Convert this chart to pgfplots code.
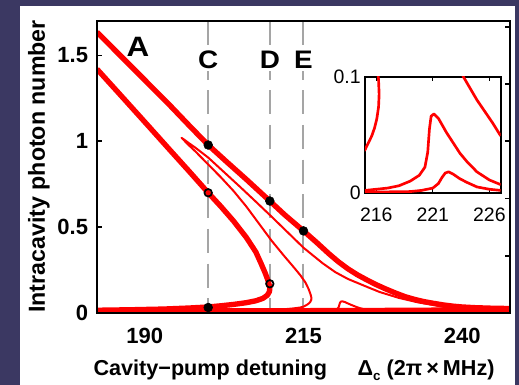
\documentclass[border=0pt]{standalone}
\usepackage{graphicx}
\usepackage{fontspec}
\setmainfont{Liberation Sans}
\usepackage{pgfplots}
\pgfplotsset{compat=1.18}
\definecolor{navy}{RGB}{59,56,98}
\definecolor{dgray}{RGB}{165,165,165}
\begin{document}
\begin{tikzpicture}
\fill[navy] (0,0) rectangle (389.25pt,288.75pt);
\fill[white] (15pt,0) rectangle (386.25pt,284.25pt);
% main axis
\begin{axis}[
  at={(72.75pt,54pt)}, anchor=south west,
  scale only axis, width=309.75pt, height=219pt,
  xmin=182.5, xmax=247.5, ymin=0, ymax=1.7,
  axis line style={line width=1.8pt},
  xtick={190,215,240}, xticklabels={190,215,240},
  ytick={0,0.5,1,1.5}, yticklabels={0,0.5,1,1.5},
  xtick pos=left, ytick pos=left,
  tick align=inside, major tick length=4pt,
  tick style={line width=1.2pt, black},
  /pgf/number format/assume math mode=true,
  tick label style={font=\bfseries\fontsize{16.5}{16.5}\selectfont},
  xticklabel style={inner sep=0pt, yshift=-11pt},
  yticklabel style={inner sep=0pt, xshift=-6.5pt},
]
\addplot[dgray, line width=1.5pt, dash pattern=on 18pt off 8pt] coordinates {(200,1.7) (200,0)};
\addplot[dgray, line width=1.5pt, dash pattern=on 18pt off 8pt] coordinates {(209.7,1.7) (209.7,0)};
\addplot[dgray, line width=1.5pt, dash pattern=on 18pt off 8pt] coordinates {(215,1.7) (215,0)};
% thick bottom branch
\addplot[red, line width=3.6pt, line join=round] coordinates {
(182.5,0.014) (190,0.014) (200,0.014) (209,0.014) (215,0.015) (225,0.016) (235,0.018) (247.5,0.02)};
% P2 small bump
\addplot[red, line width=1.5pt, line join=round] coordinates {
(182.5,0.0005) (215,0.0005) (219,0.001) (220,0.002) (221,0.004) (221.5,0.008) (221.8,0.013) (222.1,0.017) (222.4,0.018) (222.8,0.016) (223.4,0.012) (224,0.009) (224.9,0.005) (226,0.003) (227,0.002) (247.5,0.001)};
% P1 peak
\addplot[red, line width=1.5pt, line join=round] coordinates {
(182.5,0.001) (210,0.0015) (215,0.002) (216,0.003) (217,0.004) (218,0.006) (219,0.01) (219.8,0.015) (220.3,0.022) (220.55,0.035) (220.7,0.055) (220.85,0.066) (221.1,0.068) (221.5,0.064) (222.2,0.052) (223,0.04) (223.4,0.034) (224,0.027) (224.9,0.018) (226,0.011) (227,0.007) (230,0.004) (247.5,0.002)};
% thin S-curve (T2 then T1)
\addplot[red, line width=1.5pt, line join=round] coordinates {
(247.5,0.014) (244,0.017) (241,0.022) (239,0.028) (237,0.036) (235.4,0.047) (233,0.062) (230,0.088) (227,0.122) (225,0.152) (222,0.198) (220,0.238) (218,0.29) (215,0.38) (212.5,0.47) (210,0.56) (207.5,0.648) (205,0.735) (202.5,0.82) (200,0.905) (198,0.962) (197,0.988) (196.2,1.01) (195.8,1.02)
(196.2,1.005) (197,0.975) (198,0.94) (200,0.865) (202,0.79) (204,0.71) (206,0.62) (208,0.52) (210,0.42) (212,0.33) (213.5,0.265) (214.5,0.22) (215.3,0.178) (215.8,0.14) (216.05,0.115) (216.2,0.097) (216.25,0.085) (216.2,0.074) (216.05,0.064) (215.85,0.056) (215.6,0.049) (215.3,0.043) (215,0.037) (214.5,0.032) (213.5,0.027) (212,0.022) (210,0.018) (207,0.015) (204,0.012) (200,0.01) (195,0.008) (190,0.007) (182.5,0.006)};
% thick lower S-curve
\addplot[red, line width=4pt, line join=round] coordinates {
(182.5,1.42) (186,1.277) (190,1.113) (194,0.948) (197,0.825) (200,0.70) (202,0.62) (204,0.535) (206,0.44) (207.5,0.355) (208.3,0.29) (209,0.23) (209.45,0.185) (209.7,0.15) (209.65,0.125) (209.3,0.103) (208.6,0.085) (207.5,0.071) (206,0.06) (204,0.05) (202,0.042) (200,0.035) (197,0.029) (193,0.023) (188,0.019) (182.5,0.016)};
% thick upper curve
\addplot[red, line width=4pt, line join=round] coordinates {
(182.5,1.635) (186,1.505) (190,1.357) (194,1.208) (197,1.092) (200,0.978) (203,0.877) (206,0.778) (209.7,0.652) (212,0.573) (215,0.478) (217,0.413) (219,0.345) (220.5,0.298) (222,0.257) (223.5,0.222) (225,0.192) (226.5,0.164) (228,0.139) (229.5,0.116) (231,0.095) (232.5,0.079) (234,0.066) (235.5,0.056) (237,0.047) (238.5,0.040) (240,0.035) (242,0.031) (244.5,0.028) (247.5,0.026)};
% markers
\addplot[only marks, mark=*, mark size=3.3pt, black] coordinates {(200,0.978) (209.7,0.652) (215,0.478) (200,0.032)};
\addplot[only marks, mark=o, mark size=2.8pt, black, mark options={line width=1.3pt}] coordinates {(200,0.70) (209.7,0.17)};
% labels
\node[font=\bfseries\fontsize{21}{21}\selectfont, inner sep=0pt] at (axis cs:188.95,1.55) {\scalebox{1.12}[1]{A}};
\node[fill=white, inner sep=1.5pt, font=\bfseries\fontsize{19}{19}\selectfont] at (axis cs:200,1.474) {\scalebox{1.1}[1]{C}};
\node[fill=white, inner sep=1.5pt, font=\bfseries\fontsize{19}{19}\selectfont] at (axis cs:209.7,1.474) {\scalebox{1.1}[1]{D}};
\node[fill=white, inner sep=1.5pt, font=\bfseries\fontsize{19}{19}\selectfont] at (axis cs:215,1.474) {\scalebox{1.1}[1]{E}};
\end{axis}
% right-side ticks
\begin{axis}[
  at={(72.75pt,54pt)}, anchor=south west,
  scale only axis, width=309.75pt, height=219pt,
  xmin=182.5, xmax=247.5, ymin=0, ymax=1.7,
  axis line style={line width=1.8pt},
  xtick=\empty,
  ytick={0.33333,0.66667,1,1.33333,1.66667}, yticklabels={},
  ytick pos=right,
  tick align=inside, major tick length=4pt,
  tick style={line width=1.2pt, black},
]
\end{axis}
% inset
\begin{axis}[
  at={(273.75pt,144.2pt)}, anchor=south west,
  scale only axis, width=101.75pt, height=87pt,
  xmin=215, xmax=227, ymin=0, ymax=0.1,
  axis background/.style={fill=white},
  axis line style={line width=1.5pt},
  xtick={216,221,226}, xticklabels={216,221,226},
  ytick={0,0.1}, yticklabels={0,0.1},
  xtick pos=both, xticklabel pos=left, ytick pos=left,
  tick align=inside, major tick length=3pt,
  tick style={line width=1pt, black},
  /pgf/number format/assume math mode=true,
  tick label style={font=\fontsize{14.6}{14.6}\selectfont},
  xticklabel style={inner sep=0pt, yshift=-10.9pt},
  yticklabel style={inner sep=0pt, xshift=-3pt},
]
\addplot[red, line width=2pt, line join=round] coordinates {
(215,0.002) (216,0.003) (217,0.004) (218,0.006) (219,0.01) (219.8,0.015) (220.3,0.022) (220.55,0.035) (220.7,0.055) (220.85,0.066) (221.1,0.068) (221.5,0.064) (222.2,0.052) (223,0.04) (223.4,0.034) (224,0.027) (224.9,0.018) (226,0.011) (227,0.007)};
\addplot[red, line width=2pt, line join=round] coordinates {
(215,0.0005) (219,0.001) (220,0.002) (221,0.004) (221.5,0.008) (221.8,0.013) (222.1,0.017) (222.4,0.018) (222.8,0.016) (223.4,0.012) (224,0.009) (224.9,0.005) (226,0.003) (227,0.002)};
\addplot[red, line width=2pt, line join=round] coordinates {
(216.05,0.115) (216.2,0.097) (216.25,0.085) (216.2,0.074) (216.05,0.064) (215.85,0.056) (215.6,0.049) (215.3,0.043) (215,0.037) (214.5,0.032)};
\addplot[red, line width=2pt, line join=round] coordinates {
(223.3,0.108) (223.7,0.1) (224.3,0.09) (224.9,0.08) (225.6,0.07) (226.3,0.06) (227,0.049)};
\end{axis}
% axis labels
\node[rotate=90, anchor=base west, inner sep=0pt, font=\bfseries\fontsize{17.4}{17.4}\selectfont] at (33.75pt,54pt) {Intracavity photon number};
\node[anchor=base west, inner sep=0pt, font=\bfseries\fontsize{16.2}{16.2}\selectfont] at (70pt,7pt) {Cavity−pump detuning\hspace{23pt}Δ\raisebox{-3.5pt}{\fontsize{10}{10}\selectfont c} (2π\hspace{3pt}×\hspace{3pt}MHz)};
\pgfresetboundingbox
\useasboundingbox (0,0) rectangle (389.25pt,288.75pt);
\end{tikzpicture}
\end{document}
